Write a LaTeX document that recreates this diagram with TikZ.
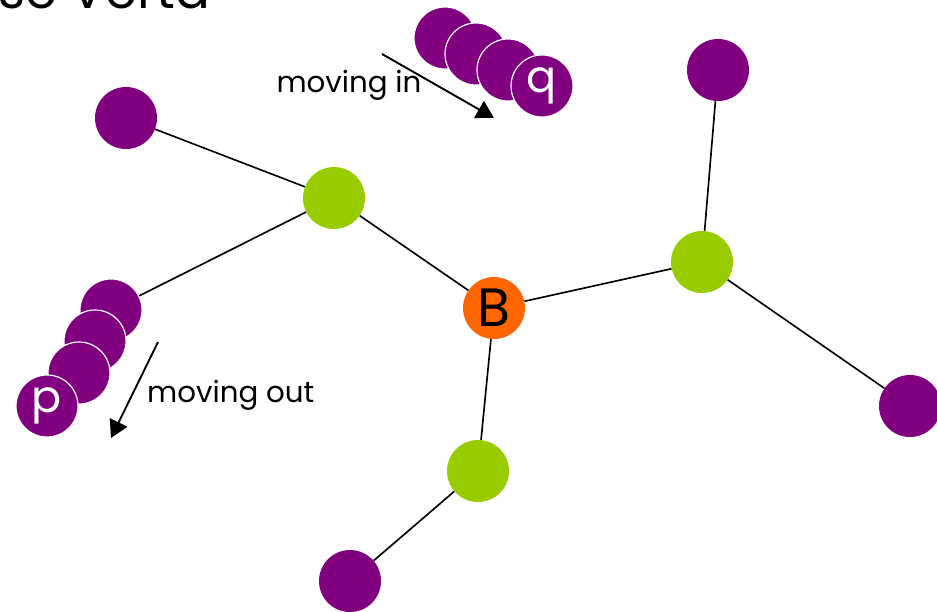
\documentclass[tikz,border=0pt]{standalone}
\usepackage{fontspec}
\setsansfont{Poppins}
\usetikzlibrary{positioning,arrows.meta}
\definecolor{leafpurple}{RGB}{128,0,128}
\definecolor{innergreen}{RGB}{153,204,0}
\definecolor{rootorange}{RGB}{255,102,0}

\begin{document}
\begin{tikzpicture}[x=0.03cm,y=-0.03cm]
\sffamily
\tikzstyle{basenode}=[circle, minimum size=1.86cm, inner sep=0pt, font=\fontsize{38}{40}\selectfont];
\tikzstyle{leaf}=[basenode, fill=leafpurple, text=white];
\tikzstyle{stacked}=[leaf, draw=white, line width=1pt];
\tikzstyle{inner}=[basenode, fill=innergreen];
\tikzstyle{root}=[basenode, fill=rootorange, text=black, font=\fontsize{46}{48}\selectfont];
\tikzstyle{edge}=[line width=1.4pt, black];
\tikzstyle{move}=[line width=1.6pt, black, -{Triangle[length=0.52cm,width=0.58cm]}];
\tikzstyle{movetext}=[font=\fontsize{25}{28}\selectfont, inner sep=0pt];

\useasboundingbox (0,0) rectangle (937,611);

% title, cut off by the page
\node[anchor=base west, font=\fontsize{44}{48}\selectfont, inner sep=0pt] (title) at (-2,8) {se Verta};

% tree
\node[root] (b) at (494,308) {B};
\node[inner] (g1) at (334,198) {};
\node[inner] (g2) at (702,262) {};
\node[inner] (g3) at (478,471) {};
\node[leaf] (l1) at (126,118) {};
\node[leaf] (l2) at (718,70) {};
\node[leaf] (l3) at (910,406) {};
\node[leaf] (l4) at (350,581) {};

% p moving out
\node[stacked] (pout1) at (111,310) {};
\node[stacked] (pout2) at (95,341) {};
\node[stacked] (pout3) at (79,373) {};
\node[stacked] (p) at (47,406) {p};

% q moving in
\node[stacked] (qin1) at (445,38) {};
\node[stacked] (qin2) at (476,54) {};
\node[stacked] (qin3) at (508,70) {};
\node[stacked] (q) at (542,86) {q};

\draw[edge] (l1) -- (g1);
\draw[edge] (g1) -- (b);
\draw[edge] (g1) -- (pout1);
\draw[edge] (b) -- (g2);
\draw[edge] (g2) -- (l2);
\draw[edge] (g2) -- (l3);
\draw[edge] (b) -- (g3);
\draw[edge] (g3) -- (l4);

\coordinate (instart) at (382,54);
\coordinate (inend) at (494,118);
\draw[move] (instart) -- (inend);
\node[movetext] (intext) at (349,85) {moving in};

\coordinate (outstart) at (158,342);
\coordinate (outend) at (111,438);
\draw[move] (outstart) -- (outend);
\node[movetext, anchor=west] (outtext) at (147,395) {moving out};

\end{tikzpicture}
\end{document}
